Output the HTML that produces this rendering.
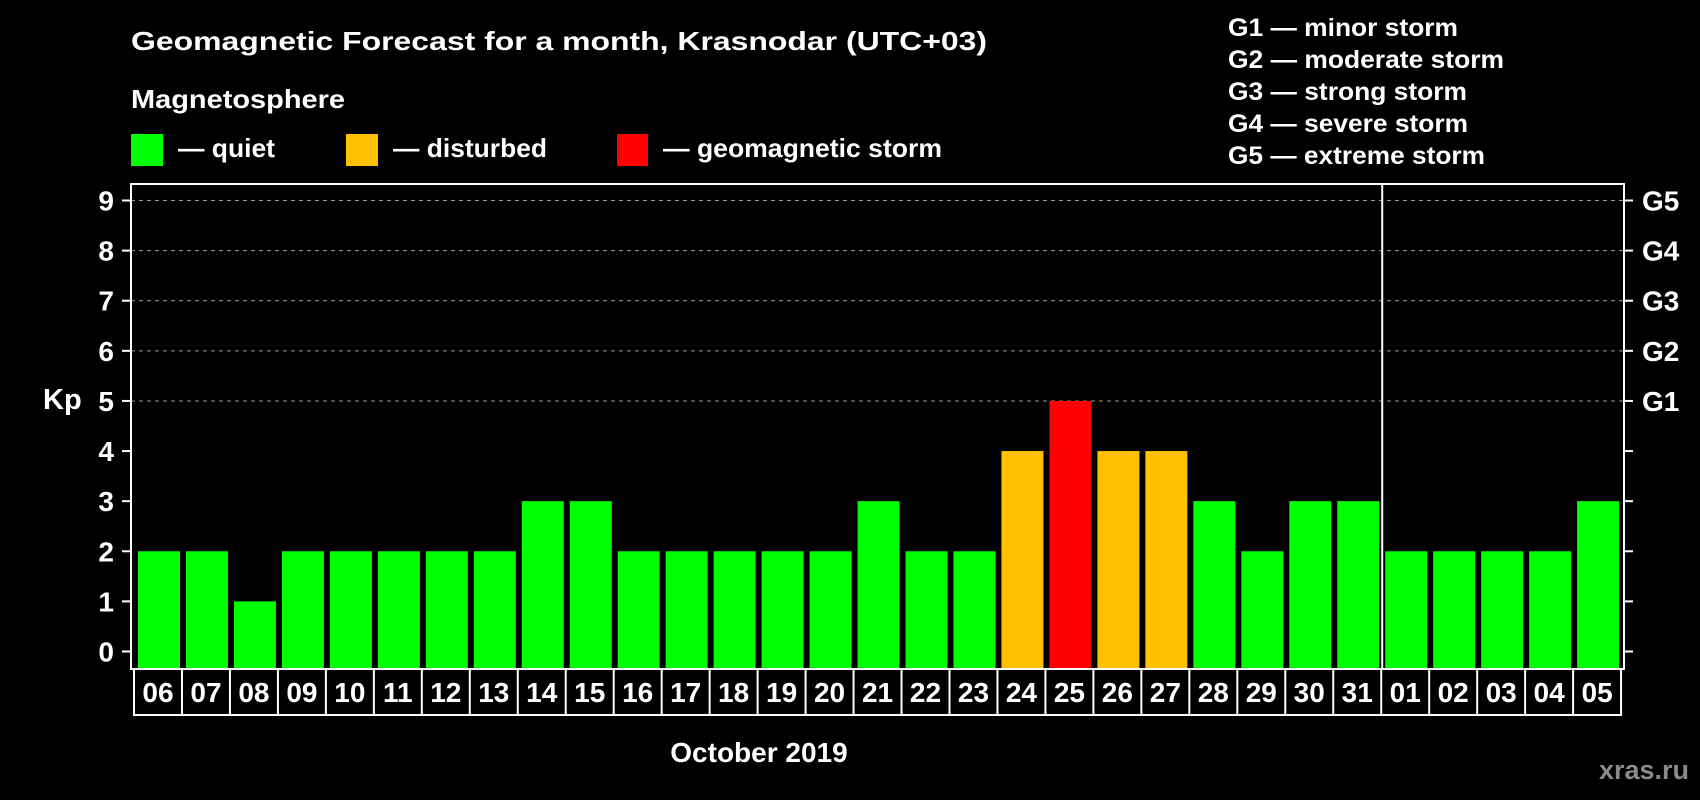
<!DOCTYPE html>
<html><head><meta charset="utf-8"><style>
html,body{margin:0;padding:0;background:#000;}
svg{display:block;font-family:"Liberation Sans",sans-serif;font-weight:bold;}
</style></head><body>
<svg id="chart" width="1700" height="800" viewBox="0 0 1700 800" xmlns="http://www.w3.org/2000/svg">
<rect width="1700" height="800" fill="#000"/>
<text x="131" y="50" fill="#fff" font-size="26" textLength="856" lengthAdjust="spacingAndGlyphs">Geomagnetic Forecast for a month, Krasnodar (UTC+03)</text>
<text x="131" y="108" fill="#fff" font-size="26" textLength="214" lengthAdjust="spacingAndGlyphs">Magnetosphere</text>
<g><rect x="131" y="134" width="32" height="32" fill="#00ff00"/><text x="178" y="157" fill="#fff" font-size="26" textLength="97" lengthAdjust="spacingAndGlyphs">— quiet</text></g>
<g><rect x="346" y="134" width="32" height="32" fill="#ffc000"/><text x="393" y="157" fill="#fff" font-size="26" textLength="154" lengthAdjust="spacingAndGlyphs">— disturbed</text></g>
<g><rect x="617" y="134" width="31" height="32" fill="#ff0000"/><text x="663" y="157" fill="#fff" font-size="26" textLength="279" lengthAdjust="spacingAndGlyphs">— geomagnetic storm</text></g>
<g fill="#fff" font-size="25">
<text x="1228" y="36" textLength="230" lengthAdjust="spacingAndGlyphs">G1 — minor storm</text>
<text x="1228" y="68" textLength="276" lengthAdjust="spacingAndGlyphs">G2 — moderate storm</text>
<text x="1228" y="100" textLength="239" lengthAdjust="spacingAndGlyphs">G3 — strong storm</text>
<text x="1228" y="132" textLength="240" lengthAdjust="spacingAndGlyphs">G4 — severe storm</text>
<text x="1228" y="164" textLength="257" lengthAdjust="spacingAndGlyphs">G5 — extreme storm</text>
</g>
<text x="43" y="409" fill="#fff" font-size="29">Kp</text>
<text x="759" y="762" fill="#fff" font-size="28" text-anchor="middle">October 2019</text>
<text x="1689" y="779" fill="#8a8a8a" font-size="27" text-anchor="end">xras.ru</text>
<g id="plot"></g>
</svg>
<script>
const days = ["06","07","08","09","10","11","12","13","14","15","16","17","18","19","20","21","22","23","24","25","26","27","28","29","30","31","01","02","03","04","05"];
const kpValues = [2,2,1,2,2,2,2,2,3,3,2,2,2,2,2,3,2,2,4,5,4,4,3,2,3,3,2,2,2,2,3];
const yTicks = [0,1,2,3,4,5,6,7,8,9];
const gLabels = ["G1","G2","G3","G4","G5"];
const gLevels = [5,6,7,8,9];
const monthBreakIndex = 26;

const NS="http://www.w3.org/2000/svg";
const g=document.getElementById('plot');
const L=131,R=1624,T=184,B=669;
const y0=651.5,yUnit=(651.5-200.5)/9;
const x0=138,step=47.97,bw=42;
const yScale=v=>y0-v*yUnit;
const xScale=i=>x0+i*step;
function mk(tag,attrs,parent){const e=document.createElementNS(NS,tag);for(const k in attrs)e.setAttribute(k,attrs[k]);(parent||g).appendChild(e);return e;}
function color(v){return v>=5?'#ff0000':(v>=4?'#ffc000':'#00ff00');}

gLevels.forEach(v=>{const l=mk('line',{x1:L,x2:R,y1:yScale(v),y2:yScale(v),stroke:'#999','stroke-width':1,'stroke-dasharray':'4,4'});

});
kpValues.forEach((v,i)=>{const r=mk('rect',{x:xScale(i),y:yScale(v),width:bw,height:(B-1)-yScale(v),fill:color(v)});

});
const fr=mk('rect',{x:L,y:T,width:R-L,height:B-T,fill:'none',stroke:'#fff','stroke-width':2});


const sx=xScale(monthBreakIndex)-3;
const sep=mk('line',{x1:sx,x2:sx,y1:T,y2:B,stroke:'#fff','stroke-width':2});


yTicks.forEach(v=>{const y=yScale(v);
mk('line',{x1:122,x2:L,y1:y,y2:y,stroke:'#fff','stroke-width':2});
mk('line',{x1:R,x2:1633,y1:y,y2:y,stroke:'#fff','stroke-width':2});
const t=mk('text',{x:114,y:y+10,fill:'#fff','font-size':28,'text-anchor':'end'});t.textContent=v;

});
gLabels.forEach((s,i)=>{const t=mk('text',{x:1642,y:yScale(gLevels[i])+10,fill:'#fff','font-size':28});t.textContent=s;

});
const bx0=134,bTop=669,bBot=715;
const boxes=mk('rect',{x:bx0,y:bTop,width:days.length*step,height:bBot-bTop,fill:'none',stroke:'#fff','stroke-width':2});


days.forEach((d,i)=>{if(i>0)mk('line',{x1:bx0+i*step,x2:bx0+i*step,y1:bTop,y2:bBot,stroke:'#fff','stroke-width':2});
const t=mk('text',{x:bx0+i*step+step/2,y:702,fill:'#fff','font-size':28,'text-anchor':'middle'});t.textContent=d;

});
</script>
</body></html>
